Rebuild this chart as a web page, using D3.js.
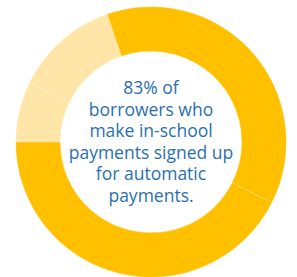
<!DOCTYPE html>
<html>
<head>
<meta charset="utf-8">
<script src="https://cdn.jsdelivr.net/npm/d3@7"></script>
<style>
  html, body { margin: 0; padding: 0; background: #fff; }
  svg { display: block; }
</style>
</head>
<body>
<div id="chart"></div>
<script>
// Segment shares (percent), clockwise starting from 3 o'clock
const segments = ["b", "c", "d", "e", "a"]
const values = [7.4, 42.6, 7.2, 12.6, 30.2]
const groups = ["signed", "signed", "other", "other", "signed"]

const labelLines = [
  "83% of",
  "borrowers who",
  "make in-school",
  "payments signed up",
  "for automatic",
  "payments."
]

const width = 297
const height = 277
const cx = 151
const cy = 142
const outerR = 135
const innerR = 91

const color = d3.scaleOrdinal().domain(["signed", "other"]).range(["#ffc000", "#ffe6a8"])

const svg = d3.select("#chart").append("svg").attr("width", width).attr("height", height)
const g = svg.append("g").attr("transform", `translate(${cx},${cy})`)

const pie = d3.pie().sort(null).value((d) => d.value).startAngle(Math.PI / 2).endAngle(Math.PI / 2 + 2 * Math.PI)
const data = segments.map((s, i) => ({ id: s, value: values[i], group: groups[i] }))
const arcs = pie(data)

const arc = d3.arc().innerRadius(innerR).outerRadius(outerR)

g.selectAll("path")
  .data(arcs)
  .enter()
  .append("path")
  .attr("d", arc)
  .attr("fill", (d) => color(d.data.group))
  .attr("stroke", (d) => color(d.data.group))
  .attr("stroke-width", 0.5)

// faint separators between neighbouring slices of the same colour
const seps = arcs.filter((d, i) => i > 0 && arcs[i - 1].data.group === d.data.group)
g.selectAll("line.sep")
  .data(seps)
  .enter()
  .append("line")
  .attr("class", "sep")
  .attr("x1", (d) => Math.sin(d.startAngle) * innerR)
  .attr("y1", (d) => -Math.cos(d.startAngle) * innerR)
  .attr("x2", (d) => Math.sin(d.startAngle) * outerR)
  .attr("y2", (d) => -Math.cos(d.startAngle) * outerR)
  .attr("stroke", "#fff")
  .attr("stroke-opacity", 0.4)
  .attr("stroke-width", 0.8)

// centre label
const lineH = 21.5
g.append("text")
  .attr("text-anchor", "middle")
  .attr("font-family", "'Open Sans', sans-serif")
  .attr("font-size", 17.5)
  .attr("fill", "#2a70b0")
  .selectAll("tspan")
  .data(labelLines)
  .enter()
  .append("tspan")
  .attr("x", 0)
  .attr("y", (d, i) => (i - (labelLines.length - 1) / 2) * lineH)
  .attr("dy", "0.35em")
  .text((d) => d)
</script>
</body>
</html>
